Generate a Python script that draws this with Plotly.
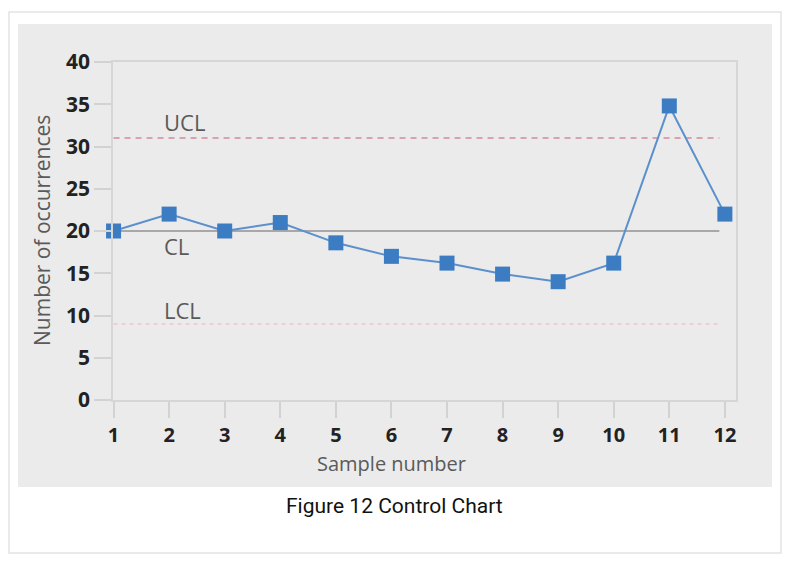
import plotly.graph_objects as go

# ---- data ----
samples = [1, 2, 3, 4, 5, 6, 7, 8, 9, 10, 11, 12]
occurrences = [20, 22, 20, 21, 18.6, 17.0, 16.2, 14.9, 14.0, 16.2, 34.8, 22]
limit_names = ["UCL", "CL", "LCL"]
limit_values = [31, 20, 9]
limit_span = [1, 11.9]
y_ticks = [0, 5, 10, 15, 20, 25, 30, 35, 40]
x_title = "Sample number"
y_title = "Number of occurrences"
caption = "Figure 12 Control Chart"

W, H = 798, 570
L, R, T, B = 113, 62, 62, 170  # plot area: x 113..736, y 62..400
pw, ph = W - L - R, H - T - B


def px_x(p):
    return (p - L) / pw


def px_y(p):
    return (H - B - p) / ph


fig = go.Figure()

limit_styles = {
    "UCL": dict(color="#d8a3b1", width=2, dash="6px,5px"),
    "CL": dict(color="#a8a8a8", width=2, dash="solid"),
    "LCL": dict(color="#f2cdd5", width=2, dash="4px,4px"),
}
label_offsets = {"UCL": 1.9, "CL": -1.8, "LCL": 1.6}

for name, val in zip(limit_names, limit_values):
    fig.add_trace(go.Scatter(
        x=limit_span, y=[val, val], mode="lines",
        line=limit_styles[name], hoverinfo="skip", showlegend=False,
    ))
    fig.add_annotation(
        x=1.88, y=val + label_offsets[name], text=name, showarrow=False,
        xanchor="left", yanchor="middle",
        font=dict(family="Open Sans", size=22, color="#5a5a5a"),
    )

fig.add_trace(go.Scatter(
    x=samples, y=occurrences, mode="lines+markers",
    line=dict(color="#5c90cc", width=2),
    marker=dict(symbol="square", size=15, color="#3b7cc2"),
    showlegend=False, cliponaxis=False,
))

shapes = [
    # outer white box with light border
    dict(type="rect", xref="paper", yref="paper",
         x0=px_x(9), x1=px_x(781), y0=px_y(553), y1=px_y(12),
         fillcolor="white", line=dict(color="#e3e3e3", width=1.5), layer="below"),
    # gray panel
    dict(type="rect", xref="paper", yref="paper",
         x0=px_x(18), x1=px_x(772), y0=px_y(487), y1=px_y(24),
         fillcolor="#ebebeb", line=dict(width=0), layer="below"),
]

fig.add_annotation(
    xref="paper", yref="paper", x=px_x(394), y=px_y(506), text=caption,
    showarrow=False, xanchor="center", yanchor="middle",
    font=dict(family="Roboto", size=21, color="#111111"),
)
fig.add_annotation(
    xref="paper", yref="paper", x=px_x(391), y=px_y(463), text=x_title,
    showarrow=False, xanchor="center", yanchor="middle",
    font=dict(family="Open Sans", size=20, color="#5a5a5a"),
)
fig.add_annotation(
    xref="paper", yref="paper", x=px_x(42), y=px_y(231), text=y_title,
    showarrow=False, xanchor="center", yanchor="middle", textangle=-90,
    font=dict(family="Open Sans", size=21, color="#5a5a5a"),
)

fig.update_layout(
    width=W, height=H,
    margin=dict(l=L, r=R, t=T, b=B),
    paper_bgcolor="white", plot_bgcolor="white",
    shapes=shapes,
    xaxis=dict(
        range=[0.99, 12.2], tickvals=samples, ticktext=[str(s) for s in samples],
        showgrid=False, zeroline=False,
        ticks="outside", ticklen=16, tickwidth=1.5, tickcolor="#d2d2d2",
        showline=True, mirror=True, linecolor="#d6d6d6", linewidth=1.5,
        tickfont=dict(family="Open Sans", size=20, color="#222222", weight=700),
    ),
    yaxis=dict(
        range=[0, 40], tickvals=y_ticks,
        showgrid=False, zeroline=False,
        ticks="outside", ticklen=17, tickwidth=1.5, tickcolor="#d2d2d2",
        showline=True, mirror=True, linecolor="#d6d6d6", linewidth=1.5,
        tickfont=dict(family="Open Sans", size=21, color="#222222", weight=700),
    ),
)

fig.write_html("out.html")
